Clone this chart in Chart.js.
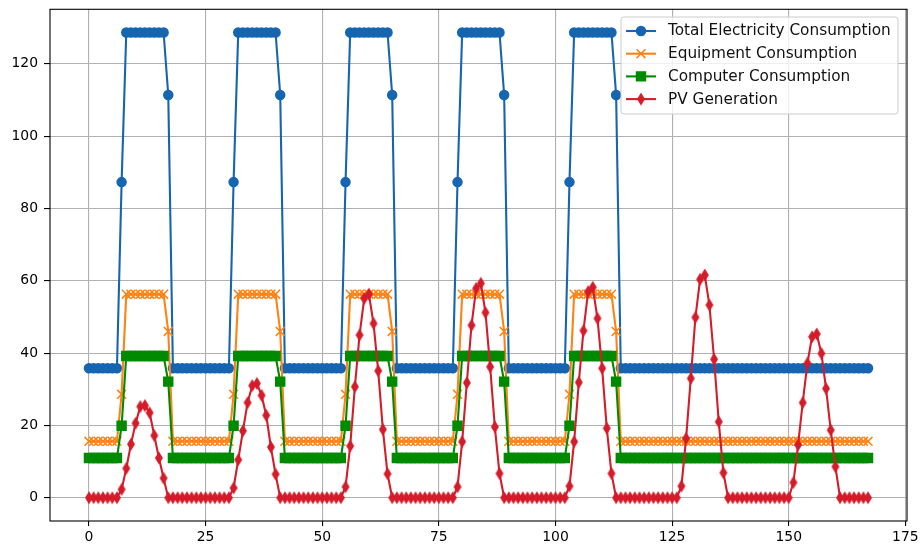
<!DOCTYPE html>
<html>
<head>
<meta charset="utf-8">
<script src="https://cdn.jsdelivr.net/npm/chart.js@4.4.1/dist/chart.umd.min.js"></script>
<style>
  html, body { margin: 0; padding: 0; background: #fff; }
  #wrap { width: 921px; height: 551px; }
</style>
</head>
<body>
<div id="wrap"><canvas id="chart" width="921" height="551"></canvas></div>
<script>
// Datos (una semana, horas 0..167)
const seriesNames = ["Total Electricity Consumption", "Equipment Consumption", "Computer Consumption", "PV Generation"];
const xTicks = [0, 25, 50, 75, 100, 125, 150, 175];
const yTicks = [0, 20, 40, 60, 80, 100, 120];

const hours = Array.from({ length: 168 }, (_, i) => i);

const totalConsumption = [
  35.8, 35.8, 35.8, 35.8, 35.8, 35.8, 35.8, 87.3, 128.7, 128.7, 128.7, 128.7, 128.7, 128.7, 128.7, 128.7, 128.7, 111.4, 35.8, 35.8, 35.8, 35.8, 35.8, 35.8,
  35.8, 35.8, 35.8, 35.8, 35.8, 35.8, 35.8, 87.3, 128.7, 128.7, 128.7, 128.7, 128.7, 128.7, 128.7, 128.7, 128.7, 111.4, 35.8, 35.8, 35.8, 35.8, 35.8, 35.8,
  35.8, 35.8, 35.8, 35.8, 35.8, 35.8, 35.8, 87.3, 128.7, 128.7, 128.7, 128.7, 128.7, 128.7, 128.7, 128.7, 128.7, 111.4, 35.8, 35.8, 35.8, 35.8, 35.8, 35.8,
  35.8, 35.8, 35.8, 35.8, 35.8, 35.8, 35.8, 87.3, 128.7, 128.7, 128.7, 128.7, 128.7, 128.7, 128.7, 128.7, 128.7, 111.4, 35.8, 35.8, 35.8, 35.8, 35.8, 35.8,
  35.8, 35.8, 35.8, 35.8, 35.8, 35.8, 35.8, 87.3, 128.7, 128.7, 128.7, 128.7, 128.7, 128.7, 128.7, 128.7, 128.7, 111.4, 35.8, 35.8, 35.8, 35.8, 35.8, 35.8,
  35.8, 35.8, 35.8, 35.8, 35.8, 35.8, 35.8, 35.8, 35.8, 35.8, 35.8, 35.8, 35.8, 35.8, 35.8, 35.8, 35.8, 35.8, 35.8, 35.8, 35.8, 35.8, 35.8, 35.8,
  35.8, 35.8, 35.8, 35.8, 35.8, 35.8, 35.8, 35.8, 35.8, 35.8, 35.8, 35.8, 35.8, 35.8, 35.8, 35.8, 35.8, 35.8, 35.8, 35.8, 35.8, 35.8, 35.8, 35.8
];

const equipmentConsumption = [
  15.6, 15.6, 15.6, 15.6, 15.6, 15.6, 15.6, 28.6, 56.3, 56.3, 56.3, 56.3, 56.3, 56.3, 56.3, 56.3, 56.3, 46.0, 15.6, 15.6, 15.6, 15.6, 15.6, 15.6,
  15.6, 15.6, 15.6, 15.6, 15.6, 15.6, 15.6, 28.6, 56.3, 56.3, 56.3, 56.3, 56.3, 56.3, 56.3, 56.3, 56.3, 46.0, 15.6, 15.6, 15.6, 15.6, 15.6, 15.6,
  15.6, 15.6, 15.6, 15.6, 15.6, 15.6, 15.6, 28.6, 56.3, 56.3, 56.3, 56.3, 56.3, 56.3, 56.3, 56.3, 56.3, 46.0, 15.6, 15.6, 15.6, 15.6, 15.6, 15.6,
  15.6, 15.6, 15.6, 15.6, 15.6, 15.6, 15.6, 28.6, 56.3, 56.3, 56.3, 56.3, 56.3, 56.3, 56.3, 56.3, 56.3, 46.0, 15.6, 15.6, 15.6, 15.6, 15.6, 15.6,
  15.6, 15.6, 15.6, 15.6, 15.6, 15.6, 15.6, 28.6, 56.3, 56.3, 56.3, 56.3, 56.3, 56.3, 56.3, 56.3, 56.3, 46.0, 15.6, 15.6, 15.6, 15.6, 15.6, 15.6,
  15.6, 15.6, 15.6, 15.6, 15.6, 15.6, 15.6, 15.6, 15.6, 15.6, 15.6, 15.6, 15.6, 15.6, 15.6, 15.6, 15.6, 15.6, 15.6, 15.6, 15.6, 15.6, 15.6, 15.6,
  15.6, 15.6, 15.6, 15.6, 15.6, 15.6, 15.6, 15.6, 15.6, 15.6, 15.6, 15.6, 15.6, 15.6, 15.6, 15.6, 15.6, 15.6, 15.6, 15.6, 15.6, 15.6, 15.6, 15.6
];

const computerConsumption = [
  11.0, 11.0, 11.0, 11.0, 11.0, 11.0, 11.0, 19.9, 39.2, 39.2, 39.2, 39.2, 39.2, 39.2, 39.2, 39.2, 39.2, 32.1, 11.0, 11.0, 11.0, 11.0, 11.0, 11.0,
  11.0, 11.0, 11.0, 11.0, 11.0, 11.0, 11.0, 19.9, 39.2, 39.2, 39.2, 39.2, 39.2, 39.2, 39.2, 39.2, 39.2, 32.1, 11.0, 11.0, 11.0, 11.0, 11.0, 11.0,
  11.0, 11.0, 11.0, 11.0, 11.0, 11.0, 11.0, 19.9, 39.2, 39.2, 39.2, 39.2, 39.2, 39.2, 39.2, 39.2, 39.2, 32.1, 11.0, 11.0, 11.0, 11.0, 11.0, 11.0,
  11.0, 11.0, 11.0, 11.0, 11.0, 11.0, 11.0, 19.9, 39.2, 39.2, 39.2, 39.2, 39.2, 39.2, 39.2, 39.2, 39.2, 32.1, 11.0, 11.0, 11.0, 11.0, 11.0, 11.0,
  11.0, 11.0, 11.0, 11.0, 11.0, 11.0, 11.0, 19.9, 39.2, 39.2, 39.2, 39.2, 39.2, 39.2, 39.2, 39.2, 39.2, 32.1, 11.0, 11.0, 11.0, 11.0, 11.0, 11.0,
  11.0, 11.0, 11.0, 11.0, 11.0, 11.0, 11.0, 11.0, 11.0, 11.0, 11.0, 11.0, 11.0, 11.0, 11.0, 11.0, 11.0, 11.0, 11.0, 11.0, 11.0, 11.0, 11.0, 11.0,
  11.0, 11.0, 11.0, 11.0, 11.0, 11.0, 11.0, 11.0, 11.0, 11.0, 11.0, 11.0, 11.0, 11.0, 11.0, 11.0, 11.0, 11.0, 11.0, 11.0, 11.0, 11.0, 11.0, 11.0
];

const pvGeneration = [
  0, 0, 0, 0, 0, 0, 0, 2.3, 8.1, 14.8, 20.6, 25.2, 25.5, 23.5, 17.2, 11.0, 5.4, 0, 0, 0, 0, 0, 0, 0,
  0, 0, 0, 0, 0, 0, 0, 2.7, 10.5, 18.5, 26.3, 31.0, 31.6, 28.3, 22.8, 14.0, 6.5, 0, 0, 0, 0, 0, 0, 0,
  0, 0, 0, 0, 0, 0, 0, 3.0, 14.3, 30.7, 45.0, 55.1, 56.3, 48.2, 35.1, 18.9, 6.6, 0, 0, 0, 0, 0, 0, 0,
  0, 0, 0, 0, 0, 0, 0, 3.0, 15.5, 31.8, 47.7, 57.9, 59.3, 51.2, 36.2, 19.6, 6.7, 0, 0, 0, 0, 0, 0, 0,
  0, 0, 0, 0, 0, 0, 0, 3.2, 15.5, 31.9, 46.2, 57.0, 58.2, 49.6, 35.8, 19.2, 6.7, 0, 0, 0, 0, 0, 0, 0,
  0, 0, 0, 0, 0, 0, 0, 3.2, 16.4, 33.0, 49.9, 60.4, 61.6, 53.3, 38.3, 21.0, 6.9, 0, 0, 0, 0, 0, 0, 0,
  0, 0, 0, 0, 0, 0, 0, 4.2, 14.6, 26.3, 37.2, 44.5, 45.3, 39.9, 30.2, 18.7, 8.6, 0, 0, 0, 0, 0, 0, 0
];

// Colores y estilos (tipo matplotlib)
const FONT = "'DejaVu Sans', 'Liberation Sans', sans-serif";
const colBlue = "#1565b0";
const colOrange = "#ff8214";
const colGreen = "#008a00";
const colRed = "#d41c2a";

// Diamante fino para la serie PV (marcador 'd')
function thinDiamond(color) {
    const c = document.createElement("canvas");
    c.width = 14;
    c.height = 14;
    const g = c.getContext("2d");
    g.beginPath();
    g.moveTo(7, 1.9);
    g.lineTo(10.1, 7);
    g.lineTo(7, 12.1);
    g.lineTo(3.9, 7);
    g.closePath();
    g.fillStyle = color;
    g.strokeStyle = color;
    g.lineWidth = 1.5;
    g.fill();
    g.stroke();
    return c;
}
const diamondImg = thinDiamond(colRed);

// Ejes con margen del 5%
const xMin = -8.35, xMax = 175.35;
const yMin = -6.44, yMax = 135.1;

// Plugin: marco del area y leyenda dentro del grafico
const frameAndLegend = {
    id: "frameAndLegend",
    afterDatasetsDraw(chart) {
        const { ctx, chartArea: a } = chart;
        ctx.save();
        ctx.strokeStyle = "#000";
        ctx.lineWidth = 1.1;
        ctx.strokeRect(a.left, a.top, a.right - a.left, a.bottom - a.top);

        // Caja de la leyenda
        const bx = 621, by = 17, bw = 277, bh = 97, r = 3;
        ctx.beginPath();
        ctx.moveTo(bx + r, by);
        ctx.lineTo(bx + bw - r, by);
        ctx.quadraticCurveTo(bx + bw, by, bx + bw, by + r);
        ctx.lineTo(bx + bw, by + bh - r);
        ctx.quadraticCurveTo(bx + bw, by + bh, bx + bw - r, by + bh);
        ctx.lineTo(bx + r, by + bh);
        ctx.quadraticCurveTo(bx, by + bh, bx, by + bh - r);
        ctx.lineTo(bx, by + r);
        ctx.quadraticCurveTo(bx, by, bx + r, by);
        ctx.closePath();
        ctx.fillStyle = "rgba(255,255,255,0.8)";
        ctx.fill();
        ctx.strokeStyle = "#cccccc";
        ctx.lineWidth = 1;
        ctx.stroke();

        chart.data.datasets.forEach((ds, i) => {
            const y = 31 + i * 22.7;
            ctx.strokeStyle = ds.borderColor;
            ctx.lineWidth = ds.borderWidth;
            ctx.beginPath();
            ctx.moveTo(626, y);
            ctx.lineTo(656, y);
            ctx.stroke();
            ctx.fillStyle = ds.pointBackgroundColor;
            ctx.strokeStyle = ds.pointBorderColor;
            ctx.lineWidth = ds.pointBorderWidth;
            Chart.helpers.drawPoint(ctx, {
                pointStyle: ds.pointStyle,
                radius: ds.pointRadius,
                borderWidth: ds.pointBorderWidth,
                rotation: 0
            }, 641, y);
            ctx.fillStyle = "#111";
            ctx.font = "15.3px " + FONT;
            ctx.textBaseline = "middle";
            ctx.textAlign = "left";
            ctx.fillText(ds.label, 668, y + 0.5);
        });
        ctx.restore();
    }
};

function makeDataset(label, values, color, style, radius, order) {
    return {
        label,
        data: values,
        borderColor: color,
        backgroundColor: color,
        pointBackgroundColor: color,
        pointBorderColor: color,
        pointBorderWidth: 1.5,
        pointStyle: style,
        pointRadius: radius,
        pointHoverRadius: radius,
        borderWidth: 2.1,
        tension: 0,
        fill: false,
        order
    };
}

const ctx = document.getElementById("chart").getContext("2d");
const chart = new Chart(ctx, {
    type: "line",
    data: {
        labels: hours,
        datasets: [
            makeDataset(seriesNames[0], totalConsumption, colBlue, "circle", 4.5, 3),
            makeDataset(seriesNames[1], equipmentConsumption, colOrange, "crossRot", 6.3, 2),
            makeDataset(seriesNames[2], computerConsumption, colGreen, "rect", 6.3, 1),
            makeDataset(seriesNames[3], pvGeneration, colRed, diamondImg, 5, 0)
        ]
    },
    options: {
        responsive: false,
        animation: false,
        devicePixelRatio: 1,
        layout: { padding: { left: 0, right: 14, top: 9.3, bottom: 0 } },
        plugins: {
            legend: { display: false },
            tooltip: { enabled: false }
        },
        scales: {
            x: {
                type: "linear",
                min: xMin,
                max: xMax,
                afterBuildTicks: (s) => { s.ticks = xTicks.map(v => ({ value: v })); },
                afterFit: (s) => { s.height = 30; s.paddingLeft = 0; s.paddingRight = 0; },
                grid: { color: "#b0b0b0", lineWidth: 1.1, tickLength: 5, tickColor: "#000", tickWidth: 1.1 },
                border: { display: false },
                ticks: { color: "#000", font: { family: FONT, size: 13.9 }, padding: 3, maxRotation: 0, autoSkip: false }
            },
            y: {
                type: "linear",
                min: yMin,
                max: yMax,
                afterBuildTicks: (s) => { s.ticks = yTicks.map(v => ({ value: v })); },
                afterFit: (s) => { s.width = 50; s.paddingTop = 0; s.paddingBottom = 0; },
                grid: { color: "#b0b0b0", lineWidth: 1.1, tickLength: 6, tickColor: "#000", tickWidth: 1.1 },
                border: { display: false },
                ticks: { color: "#000", font: { family: FONT, size: 13.9 }, padding: 6, autoSkip: false }
            }
        }
    },
    plugins: [frameAndLegend]
});
</script>
</body>
</html>
